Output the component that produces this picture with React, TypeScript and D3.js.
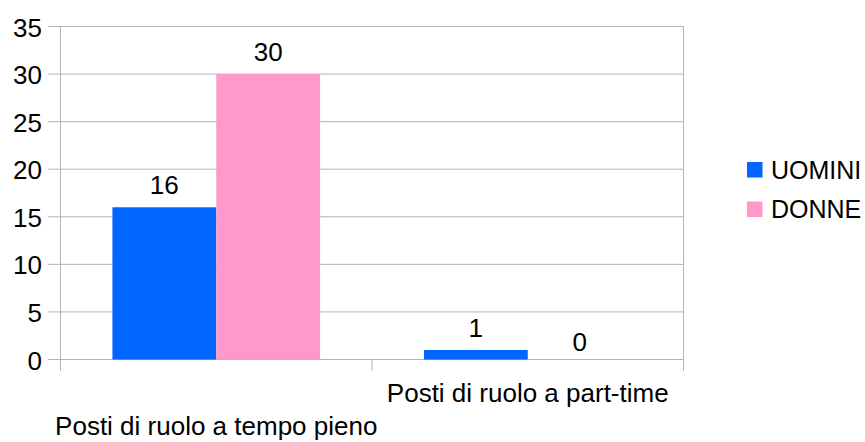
import React from "react";
import * as d3 from "d3";

const categories = ["Posti di ruolo a tempo pieno", "Posti di ruolo a part-time"];
const seriesNames = ["UOMINI", "DONNE"];
const uomini = [16, 1];
const donne = [30, 0];
const yTicks = [0, 5, 10, 15, 20, 25, 30, 35];
const colors = ["#0066ff", "#ff99cc"];

const W = 865;
const H = 442;
const plot = { left: 60.5, right: 683.5, top: 26.5, bottom: 359.5 };
const FONT = "'Liberation Sans', Arial, sans-serif";
const FS = 26;
const LEGEND_FS = 25;
const GRID = "#b3b3b3";

export default function App() {
  const values = [uomini, donne];
  const y = d3.scaleLinear().domain([0, 35]).range([plot.bottom, plot.top]);
  const x0 = d3.scaleBand<string>().domain(categories).range([plot.left, plot.right]).padding(0);
  const x1 = d3
    .scaleBand<string>()
    .domain(seriesNames)
    .range([0, x0.bandwidth()])
    .paddingInner(0)
    .paddingOuter(0.5);

  const catEdges = [plot.left, ...categories.map((c) => (x0(c) as number) + x0.bandwidth())];

  return (
    <svg
      width={W}
      height={H}
      style={{ position: "absolute", left: 0, top: 0, background: "#fff" }}
      fontFamily={FONT}
    >
      <rect x={0} y={0} width={W} height={H} fill="#fff" />
      {/* horizontal gridlines with left tick marks */}
      {yTicks.map((t) => (
        <g key={t}>
          <line x1={48} x2={plot.right} y1={y(t)} y2={y(t)} stroke={GRID} strokeWidth={1} />
          <text x={42} y={y(t) + 10} textAnchor="end" fontSize={FS} fill="#000">
            {t}
          </text>
        </g>
      ))}
      {/* axes frame */}
      <line x1={plot.left} x2={plot.left} y1={plot.top} y2={370.5} stroke={GRID} />
      <line x1={plot.right} x2={plot.right} y1={plot.top} y2={370.5} stroke={GRID} />
      {catEdges.map((e, i) => (
        <line key={i} x1={e} x2={e} y1={plot.bottom} y2={370.5} stroke={GRID} />
      ))}
      {/* bars */}
      {categories.map((c, ci) => (
        <g key={c} transform={`translate(${x0(c)},0)`}>
          {seriesNames.map((s, si) => {
            const v = values[si][ci];
            const bx = x1(s) as number;
            return (
              <g key={s}>
                <rect
                  x={bx}
                  y={y(v)}
                  width={x1.bandwidth()}
                  height={y(0) - y(v)}
                  fill={colors[si]}
                />
                <text
                  x={bx + x1.bandwidth() / 2}
                  y={v === 0 ? y(v) - 9 : y(v) - 13}
                  textAnchor="middle"
                  fontSize={FS}
                  fill="#000"
                >
                  {v}
                </text>
              </g>
            );
          })}
        </g>
      ))}
      {/* category labels, staggered */}
      {categories.map((c, ci) => (
        <text
          key={c}
          x={(x0(c) as number) + x0.bandwidth() / 2}
          y={ci % 2 === 0 ? 435 : 402}
          textAnchor="middle"
          fontSize={FS}
          fill="#000"
        >
          {c}
        </text>
      ))}
      {/* legend */}
      {seriesNames.map((s, i) => (
        <g key={s} transform={`translate(747,${162 + i * 39.5})`}>
          <rect x={0} y={0} width={15.5} height={15.5} fill={colors[i]} />
          <text x={24} y={16.5} fontSize={LEGEND_FS} fill="#000">
            {s}
          </text>
        </g>
      ))}
    </svg>
  );
}
